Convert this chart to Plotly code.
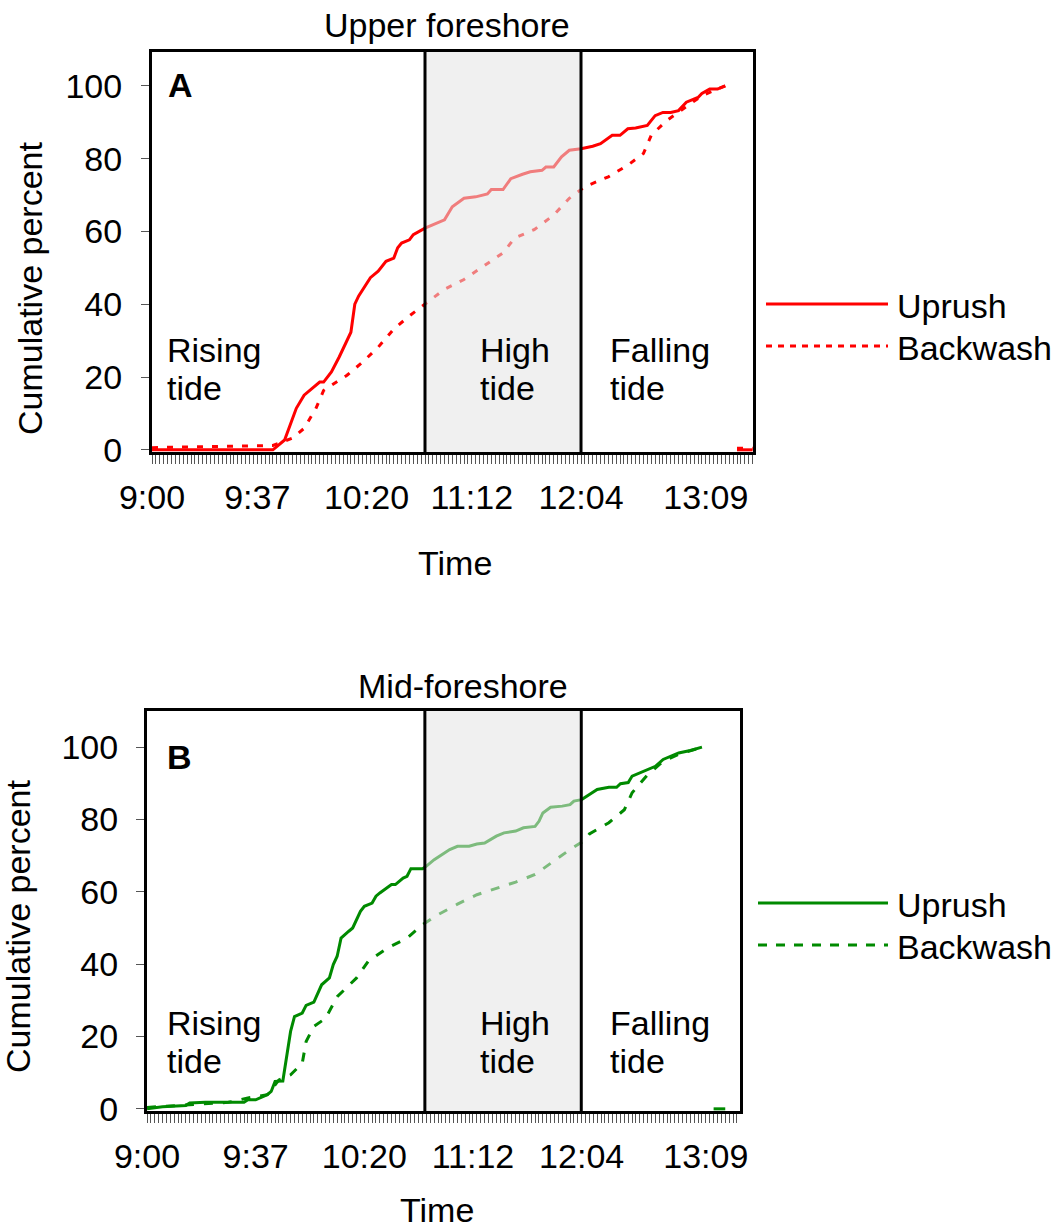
import plotly.graph_objects as go

W, H = 1060, 1230

# ---------------- data ----------------
tick_labels = ["9:00", "9:37", "10:20", "11:12", "12:04", "13:09"]
a_tick_idx = [0, 27, 55, 82, 110, 142]
b_tick_idx = [0, 28, 56, 84, 112, 144]

series_names = ["Uprush", "Backwash"]
panel_titles = ["Upper foreshore", "Mid-foreshore"]
panel_letters = ["A", "B"]
phase_names = [["Rising", "tide"], ["High", "tide"], ["Falling", "tide"]]

# tide-phase boundaries (category index)
a_phase_bounds = [70, 110]
b_phase_bounds = [71.6, 111.9]

# Panel A - upper foreshore
a_up_idx = [0, 31, 34, 36, 37, 39, 40, 43, 44, 46, 48, 49, 51, 52, 53, 56, 58, 60, 62, 63,
            64, 66, 67, 70, 75, 76, 77, 80, 83, 86, 87, 90, 92, 95, 97, 100, 101, 103, 105,
            107, 110, 113, 115, 118, 120, 122, 124, 127, 129, 131, 133, 135, 137, 140, 141,
            143, 145, 147]
a_up_val = [0, 0, 2.7, 8.2, 11.4, 15.0, 15.9, 18.6, 18.6, 21.4, 25.5, 27.7, 32.3, 40.0, 42.3,
            47.3, 49.1, 51.8, 52.7, 55.5, 56.8, 57.7, 59.1, 60.9, 63.2, 65.0, 66.8, 69.1, 69.5,
            70.3, 71.5, 71.5, 74.5, 75.7, 76.4, 76.8, 77.7, 77.7, 80.5, 82.3, 82.7, 83.4, 84.1,
            86.4, 86.4, 88.2, 88.4, 89.1, 91.8, 92.7, 92.7, 93.2, 95.5, 96.8, 97.9, 99.1, 99.1,
            100.0]
a_up_tail_idx = [150, 154]
a_up_tail_val = [0, 0]

a_bw_idx = [0, 31, 36, 39, 42, 44, 50, 54, 58, 62, 66, 70, 75, 80, 85, 90, 93, 98, 103, 107,
            111, 117, 122, 126, 128, 132, 141, 147]
a_bw_val = [0.6, 1.2, 3.2, 5.9, 11.3, 16.3, 20.5, 24.1, 28.2, 33.2, 36.8, 40.0, 44.1, 46.8,
            50.5, 54.1, 58.2, 60.5, 64.5, 69.1, 72.3, 75.0, 78.2, 81.4, 86.4, 90.5, 97.3, 100.0]
a_bw_tail_idx = [150, 154]
a_bw_tail_val = [0.4, 0.4]

# Panel B - mid-foreshore
b_up_idx = [0, 4, 10, 11, 15, 25, 26, 28, 31, 32, 33, 35, 37, 38, 40, 41, 43, 45, 47, 48, 49,
            50, 52, 53, 55, 56, 58, 59, 60, 63, 64, 66, 67, 68, 71, 72, 74, 76, 78, 80, 83, 85,
            87, 90, 92, 95, 97, 100, 101, 102, 104, 107, 109, 110, 112, 114, 116, 119, 121,
            122, 124, 125, 127, 129, 131, 133, 135, 137, 140, 143]
b_up_val = [0, 0.6, 0.9, 1.6, 1.8, 1.8, 2.5, 2.5, 3.9, 4.8, 7.6, 7.7, 21.4, 25.5, 26.5, 28.6,
            29.5, 34.3, 36.2, 39.9, 42.2, 47.2, 49.1, 50.0, 54.6, 56.0, 56.9, 58.8, 59.7, 62.0,
            62.0, 63.8, 64.3, 66.4, 66.4, 67.1, 68.9, 70.3, 71.7, 72.6, 72.6, 73.2, 73.5, 75.4,
            76.3, 76.8, 77.7, 78.1, 79.5, 81.8, 83.4, 83.7, 84.1, 85.1, 85.5, 86.9, 88.3, 88.9,
            88.9, 89.9, 90.2, 92.0, 92.9, 93.8, 94.7, 96.6, 97.5, 98.4, 99.1, 100.0]
b_up_tail_idx = [146, 149]
b_up_tail_val = [0, 0]

b_bw_idx = [0, 11, 16, 21, 26, 31, 34, 37, 40, 41, 43, 46, 49, 54, 57, 62, 67, 71, 75, 80, 85,
            90, 95, 100, 105, 109, 113, 114, 119, 123, 125, 129, 133, 137, 143]
b_bw_val = [0.4, 1.1, 1.6, 1.8, 3.0, 3.9, 8.0, 9.4, 12.6, 18.6, 22.8, 25.0, 31.0, 36.2, 40.8,
            44.5, 47.2, 50.9, 53.7, 56.6, 59.2, 60.9, 62.7, 64.8, 68.6, 71.7, 74.4, 76.0, 79.1,
            82.7, 87.4, 92.4, 96.1, 98.0, 100.0]

# ---------------- styling / layout ----------------
FONT = "Liberation Sans, Arial, Helvetica, sans-serif"
FS = 34
RED = "#ff0000"
GREEN = "#008a00"


def px(x):
    return x / W


def py(y):
    return 1 - y / H


fig = go.Figure()


def add_series(idx, val, tail_idx, tail_val, color, dash, xa, ya):
    x = list(idx)
    y = list(val)
    if tail_idx:
        x += [None] + list(tail_idx)
        y += [None] + list(tail_val)
    fig.add_trace(go.Scatter(x=x, y=y, mode="lines", xaxis=xa, yaxis=ya,
                             line=dict(color=color, width=3, dash=dash),
                             connectgaps=False, showlegend=False, hoverinfo="skip"))


add_series(a_up_idx, a_up_val, a_up_tail_idx, a_up_tail_val, RED, "solid", "x", "y")
add_series(a_bw_idx, a_bw_val, a_bw_tail_idx, a_bw_tail_val, RED, "6px,9px", "x", "y")
add_series(b_up_idx, b_up_val, b_up_tail_idx, b_up_tail_val, GREEN, "solid", "x2", "y2")
add_series(b_bw_idx, b_bw_val, [], [], GREEN, "9px,10px", "x2", "y2")

panels = [
    dict(xd=(152, 753), yd=(52, 452), xr=(0, 154.1), yr=(-0.6, 109.3), ticks=a_tick_idx,
         bounds=a_phase_bounds, xa="x", ya="y", color=RED, dash="6px,6px",
         title_xy=(447, 25), ytitle_xy=(30, 289), xtitle_xy=(455, 563), xtitle_bottom=False,
         letter_xy=(180, 85), phase_y=(350, 388), phase_x=(165, 478, 608),
         leg_x=(766, 888, 895), leg_y=(304, 346), ystandoff=12),
    dict(xd=(147, 740), yd=(711, 1111), xr=(0, 152.8), yr=(-0.6, 110.0), ticks=b_tick_idx,
         bounds=b_phase_bounds, xa="x2", ya="y2", color=GREEN, dash="9px,9px",
         title_xy=(463, 686), ytitle_xy=(18, 927), xtitle_xy=(437, 1230), xtitle_bottom=True,
         letter_xy=(179, 757), phase_y=(1023, 1061), phase_x=(165, 478, 608),
         leg_x=(758, 888, 895), leg_y=(903, 945), ystandoff=11),
]

layout = dict(
    width=W, height=H, margin=dict(l=0, r=0, t=0, b=0, pad=0, autoexpand=False),
    paper_bgcolor="white", plot_bgcolor="white",
    font=dict(family=FONT, size=FS, color="black"),
    showlegend=False,
)

shapes = []
annotations = []

for i, p in enumerate(panels):
    xkey = "xaxis" if i == 0 else "xaxis2"
    ykey = "yaxis" if i == 0 else "yaxis2"
    layout[xkey] = dict(
        domain=[px(p["xd"][0]), px(p["xd"][1])], range=list(p["xr"]),
        anchor=p["ya"], tickmode="array", tickvals=p["ticks"], ticktext=tick_labels,
        ticks="outside", ticklen=9, tickwidth=1, tickcolor="#555",
        minor=dict(tickmode="linear", tick0=0, dtick=1, ticks="outside", ticklen=9,
                   tickwidth=1, tickcolor="#555", showgrid=False),
        showline=True, mirror=True, linewidth=3, linecolor="black",
        showgrid=False, zeroline=False, layer="below traces", automargin=False,
        tickfont=dict(family=FONT, size=FS, color="black"), ticklabelstandoff=4,
    )
    layout[ykey] = dict(
        domain=[py(p["yd"][1]), py(p["yd"][0])], range=list(p["yr"]),
        anchor=p["xa"], tickmode="array", tickvals=[0, 20, 40, 60, 80, 100],
        ticks="outside", ticklen=8, tickwidth=1, tickcolor="#555",
        showline=True, mirror=True, linewidth=3, linecolor="black",
        showgrid=False, zeroline=False, layer="below traces", automargin=False,
        tickfont=dict(family=FONT, size=FS, color="black"), ticklabelstandoff=p["ystandoff"],
    )
    # high tide shading (drawn above traces, translucent)
    shapes.append(dict(type="rect", xref=p["xa"], yref=p["ya"] + " domain",
                       x0=p["bounds"][0], x1=p["bounds"][1], y0=0, y1=1,
                       fillcolor="rgba(228,228,228,0.55)", line=dict(width=0), layer="above"))
    for b in p["bounds"]:
        shapes.append(dict(type="line", xref=p["xa"], yref=p["ya"] + " domain",
                           x0=b, x1=b, y0=0, y1=1, line=dict(color="black", width=3),
                           layer="above"))
    # titles
    annotations.append(dict(text=panel_titles[i], xref="paper", yref="paper",
                            x=px(p["title_xy"][0]), y=py(p["title_xy"][1]),
                            xanchor="center", yanchor="middle", showarrow=False,
                            font=dict(size=FS)))
    annotations.append(dict(text="Cumulative percent", xref="paper", yref="paper",
                            x=px(p["ytitle_xy"][0]), y=py(p["ytitle_xy"][1]), textangle=-90,
                            xanchor="center", yanchor="middle", showarrow=False,
                            font=dict(size=FS)))
    annotations.append(dict(text="Time", xref="paper", yref="paper",
                            x=px(p["xtitle_xy"][0]), y=py(p["xtitle_xy"][1]),
                            xanchor="center",
                            yanchor="bottom" if p["xtitle_bottom"] else "middle",
                            showarrow=False, borderpad=0, font=dict(size=FS)))
    annotations.append(dict(text="<b>" + panel_letters[i] + "</b>", xref="paper", yref="paper",
                            x=px(p["letter_xy"][0]), y=py(p["letter_xy"][1]),
                            xanchor="center", yanchor="middle", showarrow=False,
                            font=dict(size=FS)))
    for k, words in enumerate(phase_names):
        for j, w in enumerate(words):
            annotations.append(dict(text=w, xref="paper", yref="paper",
                                    x=px(p["phase_x"][k]), y=py(p["phase_y"][j]),
                                    xanchor="left", yanchor="middle", showarrow=False,
                                    font=dict(size=FS)))
    # manual legend
    for j, name in enumerate(series_names):
        shapes.append(dict(type="line", xref="paper", yref="paper",
                           x0=px(p["leg_x"][0]), x1=px(p["leg_x"][1]),
                           y0=py(p["leg_y"][j]), y1=py(p["leg_y"][j]),
                           line=dict(color=p["color"], width=3,
                                     dash="solid" if j == 0 else p["dash"])))
        annotations.append(dict(text=name, xref="paper", yref="paper",
                                x=px(p["leg_x"][2]), y=py(p["leg_y"][j] + 2),
                                xanchor="left", yanchor="middle", showarrow=False,
                                font=dict(size=FS)))

layout["shapes"] = shapes
layout["annotations"] = annotations
fig.update_layout(**layout)

fig.write_html("out.html")
